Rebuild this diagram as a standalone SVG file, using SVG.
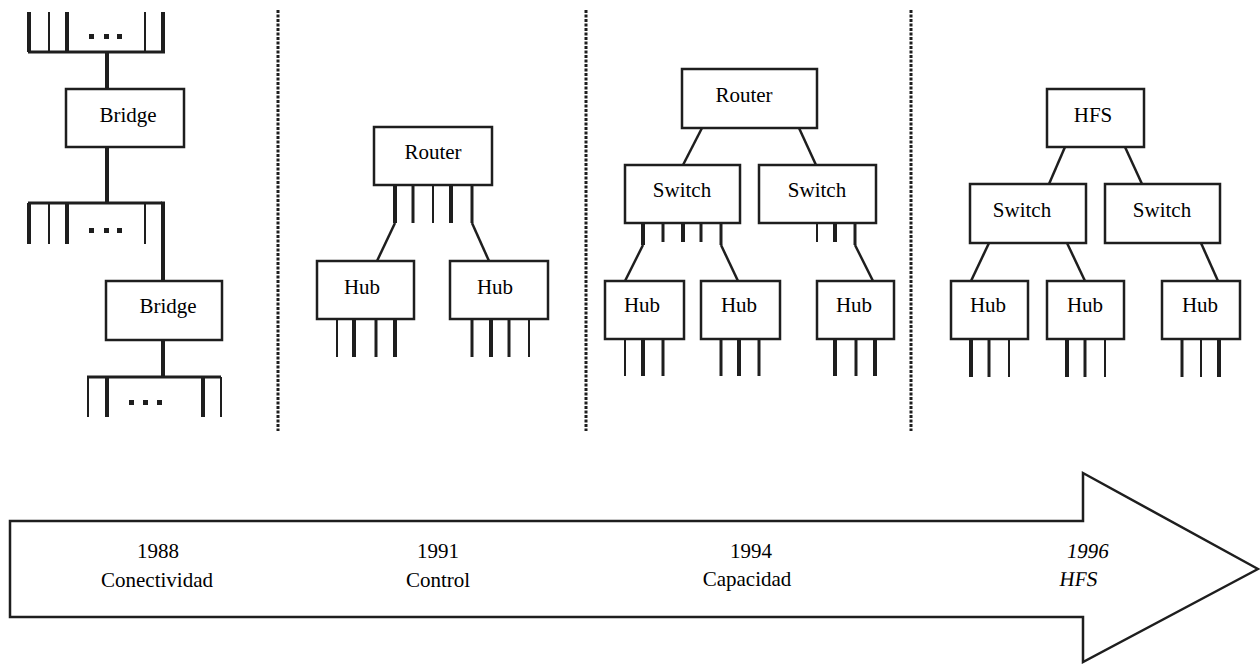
<svg xmlns="http://www.w3.org/2000/svg" width="1260" height="664" viewBox="0 0 1260 664">
<style>
.box{fill:#fff;stroke:#1e1e1e;stroke-width:2.5}
.lbl{font-family:"Liberation Serif","Times New Roman",serif;font-size:21px;fill:#000;text-anchor:middle}
.w4{stroke:#1e1e1e;stroke-width:4;fill:none}
.w3{stroke:#1e1e1e;stroke-width:3;fill:none}
.w2{stroke:#1e1e1e;stroke-width:2;fill:none}
.dg{stroke:#1e1e1e;stroke-width:2.5;fill:none}
.sep{stroke:#1e1e1e;stroke-width:3;stroke-dasharray:3 1.5;fill:none}
.dot{fill:#1e1e1e}
</style>
<rect width="1260" height="664" fill="#fff"/>

<g id="separators">
<line class="sep" x1="278" y1="10" x2="278" y2="431"/>
<line class="sep" x1="586" y1="10" x2="586" y2="431"/>
<line class="sep" x1="911" y1="10" x2="911" y2="431"/>
</g>

<g id="connectors">
<line class="w3" x1="28" y1="52" x2="165" y2="52"/>
<line class="w4" x1="29" y1="12" x2="29" y2="52"/>
<line class="w2" x1="49" y1="12" x2="49" y2="52"/>
<line class="w4" x1="67" y1="12" x2="67" y2="52"/>
<line class="w2" x1="145" y1="12" x2="145" y2="52"/>
<line class="w4" x1="163" y1="12" x2="163" y2="52"/>
<rect class="dot" x="89" y="34" width="5" height="5"/>
<rect class="dot" x="104" y="34" width="5" height="5"/>
<rect class="dot" x="117" y="34" width="5" height="5"/>
<line class="w4" x1="107" y1="52" x2="107" y2="89"/>
<line class="w4" x1="107" y1="147" x2="107" y2="203"/>
<line class="w3" x1="28" y1="203" x2="162" y2="203"/>
<line class="w4" x1="29" y1="203" x2="29" y2="244"/>
<line class="w2" x1="49" y1="203" x2="49" y2="244"/>
<line class="w4" x1="67" y1="203" x2="67" y2="244"/>
<line class="w2" x1="145" y1="203" x2="145" y2="244"/>
<line class="w4" x1="163" y1="201.5" x2="163" y2="281"/>
<rect class="dot" x="89" y="228" width="5" height="5"/>
<rect class="dot" x="104" y="228" width="5" height="5"/>
<rect class="dot" x="117" y="228" width="5" height="5"/>
<line class="w4" x1="163" y1="340" x2="163" y2="377"/>
<line class="w3" x1="87" y1="377" x2="221" y2="377"/>
<line class="w2" x1="88" y1="377" x2="88" y2="417"/>
<line class="w4" x1="107" y1="377" x2="107" y2="417"/>
<line class="w4" x1="203" y1="377" x2="203" y2="417"/>
<line class="w2" x1="221" y1="377" x2="221" y2="417"/>
<rect class="dot" x="129" y="400" width="5" height="5"/>
<rect class="dot" x="143" y="400" width="5" height="5"/>
<rect class="dot" x="157" y="400" width="5" height="5"/>

<line class="w4" x1="395" y1="185" x2="395" y2="223"/>
<line class="w3" x1="413" y1="185" x2="413" y2="223"/>
<line class="w2" x1="433" y1="185" x2="433" y2="223"/>
<line class="w4" x1="451" y1="185" x2="451" y2="223"/>
<line class="w3" x1="472" y1="185" x2="472" y2="223"/>
<line class="dg" x1="395" y1="223" x2="377" y2="261"/>
<line class="dg" x1="472" y1="223" x2="489" y2="261"/>
<line class="w2" x1="337" y1="319" x2="337" y2="357"/>
<line class="w4" x1="354" y1="319" x2="354" y2="357"/>
<line class="w3" x1="376" y1="319" x2="376" y2="357"/>
<line class="w4" x1="395" y1="319" x2="395" y2="357"/>
<line class="w3" x1="472" y1="319" x2="472" y2="357"/>
<line class="w4" x1="491" y1="319" x2="491" y2="357"/>
<line class="w3" x1="509" y1="319" x2="509" y2="357"/>
<line class="w2" x1="529" y1="319" x2="529" y2="357"/>

<line class="dg" x1="702" y1="128" x2="683" y2="165"/>
<line class="dg" x1="799" y1="128" x2="816" y2="165"/>
<line class="w4" x1="643" y1="223" x2="643" y2="245"/>
<line class="w3" x1="663" y1="223" x2="663" y2="242"/>
<line class="w4" x1="683" y1="223" x2="683" y2="242"/>
<line class="w3" x1="701" y1="223" x2="701" y2="242"/>
<line class="w3" x1="721" y1="223" x2="721" y2="245"/>
<line class="w2" x1="817" y1="223" x2="817" y2="242"/>
<line class="w4" x1="835" y1="223" x2="835" y2="242"/>
<line class="w3" x1="855" y1="223" x2="855" y2="245"/>
<line class="dg" x1="643" y1="245" x2="625" y2="281"/>
<line class="dg" x1="721" y1="245" x2="738" y2="281"/>
<line class="dg" x1="855" y1="245" x2="873" y2="281"/>
<line class="w2" x1="625" y1="339" x2="625" y2="376"/>
<line class="w4" x1="643" y1="339" x2="643" y2="376"/>
<line class="w3" x1="663" y1="339" x2="663" y2="376"/>
<line class="w3" x1="721" y1="339" x2="721" y2="376"/>
<line class="w4" x1="739" y1="339" x2="739" y2="376"/>
<line class="w3" x1="759" y1="339" x2="759" y2="376"/>
<line class="w4" x1="835" y1="339" x2="835" y2="376"/>
<line class="w3" x1="856" y1="339" x2="856" y2="376"/>
<line class="w4" x1="875" y1="339" x2="875" y2="376"/>

<line class="dg" x1="1065" y1="147" x2="1049" y2="184"/>
<line class="dg" x1="1125" y1="147" x2="1142" y2="184"/>
<line class="dg" x1="989" y1="243" x2="971" y2="281"/>
<line class="dg" x1="1067" y1="243" x2="1085" y2="281"/>
<line class="dg" x1="1201" y1="243" x2="1218" y2="281"/>
<line class="w4" x1="971" y1="339" x2="971" y2="377"/>
<line class="w3" x1="989" y1="339" x2="989" y2="377"/>
<line class="w2" x1="1009" y1="339" x2="1009" y2="377"/>
<line class="w4" x1="1067" y1="339" x2="1067" y2="377"/>
<line class="w3" x1="1085" y1="339" x2="1085" y2="377"/>
<line class="w2" x1="1105" y1="339" x2="1105" y2="377"/>
<line class="w3" x1="1182" y1="339" x2="1182" y2="377"/>
<line class="w2" x1="1201" y1="339" x2="1201" y2="377"/>
<line class="w4" x1="1219" y1="339" x2="1219" y2="377"/>
</g>

<g id="bridge1"><rect class="box" x="66" y="89" width="118" height="58"/><text class="lbl" x="128" y="122">Bridge</text></g>
<g id="bridge2"><rect class="box" x="106" y="281" width="116" height="59"/><text class="lbl" x="168" y="313">Bridge</text></g>

<g id="router1"><rect class="box" x="374" y="127" width="118" height="58"/><text class="lbl" x="433" y="159">Router</text></g>
<g id="hub1"><rect class="box" x="317" y="261" width="97" height="58"/><text class="lbl" x="362" y="294">Hub</text></g>
<g id="hub2"><rect class="box" x="450" y="261" width="98" height="58"/><text class="lbl" x="495" y="294">Hub</text></g>

<g id="router2"><rect class="box" x="682" y="69" width="135" height="59"/><text class="lbl" x="744" y="102">Router</text></g>
<g id="switch1"><rect class="box" x="625" y="165" width="115" height="58"/><text class="lbl" x="682" y="197">Switch</text></g>
<g id="switch2"><rect class="box" x="759" y="165" width="117" height="58"/><text class="lbl" x="817" y="197">Switch</text></g>
<g id="hub3"><rect class="box" x="605" y="281" width="79" height="58"/><text class="lbl" x="642" y="312">Hub</text></g>
<g id="hub4"><rect class="box" x="701" y="281" width="79" height="58"/><text class="lbl" x="739" y="312">Hub</text></g>
<g id="hub5"><rect class="box" x="817" y="281" width="77" height="58"/><text class="lbl" x="854" y="312">Hub</text></g>

<g id="hfs"><rect class="box" x="1047" y="89" width="97" height="58"/><text class="lbl" x="1093" y="122">HFS</text></g>
<g id="switch3"><rect class="box" x="970" y="184" width="116" height="59"/><text class="lbl" x="1022" y="217">Switch</text></g>
<g id="switch4"><rect class="box" x="1105" y="184" width="115" height="59"/><text class="lbl" x="1162" y="217">Switch</text></g>
<g id="hub6"><rect class="box" x="951" y="281" width="77" height="58"/><text class="lbl" x="988" y="312">Hub</text></g>
<g id="hub7"><rect class="box" x="1047" y="281" width="77" height="58"/><text class="lbl" x="1085" y="312">Hub</text></g>
<g id="hub8"><rect class="box" x="1162" y="281" width="78" height="58"/><text class="lbl" x="1200" y="312">Hub</text></g>

<g id="timeline">
<path d="M10,521 H1083 V473 L1258,569 L1083,662 V617 H10 Z" fill="#fff" stroke="#1e1e1e" stroke-width="2.5" stroke-linejoin="miter"/>
<text class="lbl" x="158" y="558">1988</text>
<text class="lbl" x="157" y="587">Conectividad</text>
<text class="lbl" x="438" y="558">1991</text>
<text class="lbl" x="438" y="587">Control</text>
<text class="lbl" x="751" y="558">1994</text>
<text class="lbl" x="747" y="586">Capacidad</text>
<text class="lbl" transform="translate(1087,558) skewX(-8)">1996</text>
<text class="lbl" transform="translate(1078,586) skewX(-8)">HFS</text>
</g>
</svg>
